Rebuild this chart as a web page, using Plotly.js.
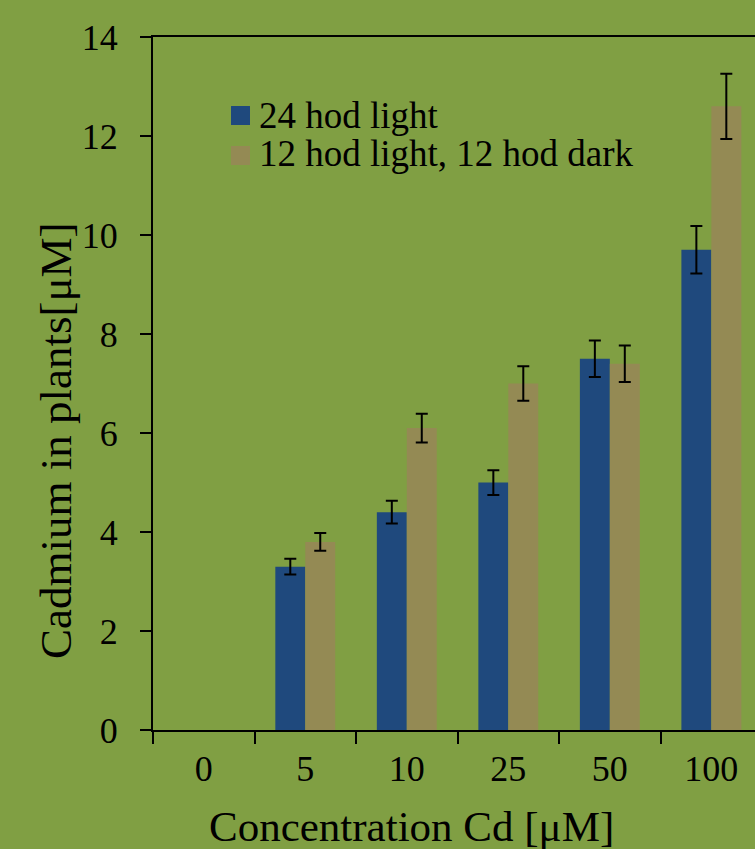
<!DOCTYPE html>
<html>
<head>
<meta charset="utf-8">
<script src="https://cdn.plot.ly/plotly-3.0.1.min.js"></script>
<style>html,body{margin:0;padding:0;background:#809f43;}</style>
</head>
<body>
<div id="chart" style="width:755px;height:849px;"></div>
<script>
const categories = ["0", "5", "10", "25", "50", "100"];
// no bar is drawn at 0 µM in the original
const light24 = [null, 3.3, 4.4, 5.0, 7.5, 9.7];
const light24Err = [null, 0.16, 0.23, 0.25, 0.37, 0.48];
const lightDark12 = [null, 3.8, 6.1, 7.0, 7.4, 12.6];
const lightDark12Err = [null, 0.18, 0.29, 0.35, 0.37, 0.66];
const seriesNames = ["24 hod light", "12 hod light, 12 hod dark"];
const yTicks = [0, 2, 4, 6, 8, 10, 12, 14];

const serif = "Liberation Serif, Times New Roman, serif";
const bg = "#809f43";
const blue = "#1f497d";
const khaki = "#948a54";

const traces = [
  {
    type: "bar", name: seriesNames[0], x: categories, y: light24,
    marker: {color: blue},
    error_y: {type: "data", array: light24Err, visible: true, color: "#000", thickness: 2, width: 6},
    showlegend: false
  },
  {
    type: "bar", name: seriesNames[1], x: categories, y: lightDark12,
    marker: {color: khaki},
    error_y: {type: "data", array: lightDark12Err, visible: true, color: "#000", thickness: 2, width: 6},
    showlegend: false
  }
];

const layout = {
  width: 755, height: 849,
  paper_bgcolor: bg, plot_bgcolor: bg,
  margin: {l: 153, r: 0, t: 37, b: 119},
  barmode: "group", bargap: 0.41, bargroupgap: 0,
  font: {family: serif, color: "#000", size: 36},
  xaxis: {
    type: "category", range: [-0.5, 5.43],
    tickson: "boundaries", ticks: "outside", ticklen: 12, tickwidth: 2, tickcolor: "#000",
    ticklabelstandoff: 6,
    showline: true, linecolor: "#000", linewidth: 2, mirror: true,
    showgrid: false, zeroline: false,
    tickfont: {family: serif, size: 36, color: "#000"}
  },
  yaxis: {
    range: [0, 14], tickvals: yTicks, ticktext: yTicks.map(String),
    ticks: "outside", ticklen: 11, tickwidth: 2, tickcolor: "#000",
    ticklabelstandoff: 15,
    showline: true, linecolor: "#000", linewidth: 2,
    showgrid: false, zeroline: false,
    tickfont: {family: serif, size: 36, color: "#000"}
  },
  shapes: [
    {type: "rect", xref: "paper", yref: "paper", x0: 0.1296, x1: 0.1611, y0: 0.9004, y1: 0.873, fillcolor: blue, line: {width: 0}},
    {type: "rect", xref: "paper", yref: "paper", x0: 0.1296, x1: 0.1611, y0: 0.8427, y1: 0.8153, fillcolor: khaki, line: {width: 0}}
  ],
  annotations: [
    {xref: "paper", yref: "paper", x: 0.172, y: 0.887, xanchor: "left", yanchor: "middle", text: seriesNames[0], showarrow: false, font: {family: serif, size: 37, color: "#000"}},
    {xref: "paper", yref: "paper", x: 0.172, y: 0.832, xanchor: "left", yanchor: "middle", text: seriesNames[1], showarrow: false, font: {family: serif, size: 37, color: "#000"}},
    {xref: "paper", yref: "paper", x: (411 - 153) / 602, y: -(826 - 730) / 693, xanchor: "center", yanchor: "middle", text: "Concentration Cd [μM]", showarrow: false, font: {family: serif, size: 43, color: "#000"}},
    {xref: "paper", yref: "paper", x: -(153 - 56) / 602, y: (730 - 441) / 693, xanchor: "center", yanchor: "middle", textangle: -90, text: "Cadmium in plants[μM]", showarrow: false, font: {family: serif, size: 45, color: "#000"}}
  ]
};

Plotly.newPlot("chart", traces, layout, {displayModeBar: false, staticPlot: true});
</script>
</body>
</html>
